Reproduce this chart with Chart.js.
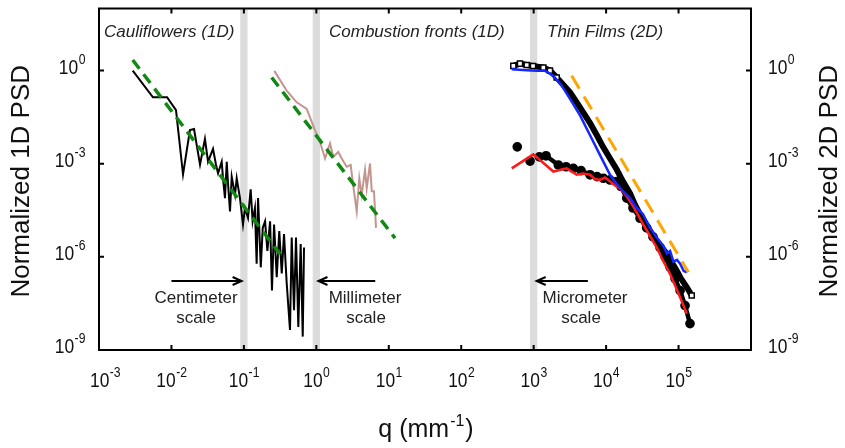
<!DOCTYPE html>
<html>
<head>
<meta charset="utf-8">
<script src="https://cdn.jsdelivr.net/npm/chart.js@4.4.1/dist/chart.umd.min.js"></script>
<style>
  html, body { margin: 0; padding: 0; background: #fff; }
  canvas { display: block; }
</style>
</head>
<body>
<canvas id="psdChart" width="845" height="448"></canvas>
<script>
// Cauliflowers (1D)
const cauliQ = [0.00292, 0.00556, 0.0087, 0.01156, 0.01445, 0.018, 0.0205, 0.0248, 0.029, 0.032, 0.0375, 0.0412, 0.044, 0.0494, 0.0515, 0.0548, 0.058, 0.0604, 0.0643, 0.0679, 0.0754, 0.0796, 0.0883, 0.0972, 0.1035, 0.114, 0.124, 0.132, 0.142, 0.150, 0.157, 0.171, 0.182, 0.196, 0.211, 0.230, 0.244, 0.261, 0.284, 0.308, 0.333, 0.358, 0.390, 0.433, 0.457, 0.492, 0.524, 0.564, 0.608, 0.649, 0.676];
const cauliPsd = [1.0, 0.138, 0.138, 0.053, 4.5e-4, 0.0122, 0.0131, 9.3e-4, 6.3e-3, 1.16e-3, 3.0e-3, 9.3e-4, 4.9e-4, 1.16e-3, 3.4e-4, 7.8e-5, 1.16e-3, 2.3e-4, 2.9e-5, 3.8e-4, 1.0e-4, 3.4e-4, 7.8e-5, 1.1e-5, 3.7e-5, 1.8e-5, 1.5e-4, 1.4e-5, 3.7e-5, 6.0e-7, 7.8e-5, 4.6e-7, 8.6e-6, 1.4e-5, 1.55e-6, 1.4e-5, 8.2e-8, 1.1e-5, 2.2e-7, 6.8e-6, 2.9e-7, 5.4e-6, 1.4e-7, 4.4e-9, 4.2e-6, 1.9e-8, 4.2e-6, 5.5e-9, 2.6e-6, 2.7e-9, 2.0e-6];
const cauliFitQ = [0.00292, 0.316];
const cauliFitPsd = [2.2, 1.23e-6];

// Combustion fronts (1D)
const combQ = [0.263, 0.390, 0.536, 0.736, 0.96, 1.125, 1.32, 1.545, 1.715, 2.01, 2.24, 2.62, 2.98, 3.24, 3.61, 3.92, 4.23, 4.70, 4.96, 5.51, 5.82, 6.24, 6.67];
const combPsd = [0.98, 0.225, 0.095, 0.058, 0.0119, 5.0e-3, 1.47e-3, 4.5e-3, 1.67e-3, 2.4e-3, 1.47e-3, 8.0e-4, 9.1e-4, 1.85e-4, 2.9e-5, 3.4e-4, 1.0e-4, 6.3e-4, 1.6e-4, 1.02e-3, 1.3e-4, 1.3e-4, 8.6e-6];
const combFitQ = [0.242, 12.2];
const combFitPsd = [0.6, 4.0e-6];

// Thin films (2D)
const squareQ = [524, 648, 802, 980, 1360, 1680, 2080, 2540, 3175, 3930, 4800, 6000, 7420, 9060, 11330, 14000, 17130, 21400, 25000, 29400, 36300, 44400, 55500, 68700, 81300, 94400, 108000, 130000, 152000];
const squarePsd = [1.42, 1.68, 1.52, 1.40, 1.25, 1.0, 0.6, 0.358, 0.2, 0.095, 0.046, 0.0204, 8.4e-3, 3.5e-3, 1.47e-3, 6.5e-4, 2.67e-4, 1.1e-4, 4.8e-5, 2.35e-5, 1.05e-5, 4.7e-6, 2.4e-6, 1.25e-6, 6.5e-7, 3.6e-7, 2.0e-7, 1.05e-7, 5.7e-8];
const circleQ = [594, 891, 1197, 1482, 2190, 2800, 3530, 4510, 6000, 7500, 9160, 11330, 14000, 16060, 19250, 23500, 29400, 36300, 44400, 55500, 65000, 76400, 89500, 105000, 123000, 144000];
const circlePsd = [3.5e-3, 1.22e-3, 1.67e-3, 1.8e-3, 9.1e-4, 8.0e-4, 7.1e-4, 6.0e-4, 4.4e-4, 3.85e-4, 3.4e-4, 3.0e-4, 2.67e-4, 1.85e-4, 7.8e-5, 3.75e-5, 1.76e-5, 8.6e-6, 4.4e-6, 2.0e-6, 1.0e-6, 4.6e-7, 2.0e-7, 8.2e-8, 2.7e-8, 7.1e-9];
const blueQ = [498, 800, 1100, 1435, 1867, 2440, 3175, 4365, 6000, 8240, 11330, 14000, 17130, 21400, 26000, 32300, 40000, 50000, 56000, 62000, 69000, 76400, 85000, 95000, 105000, 118000, 130000];
const bluePsd = [1.10, 1.02, 0.98, 0.98, 0.68, 0.326, 0.122, 0.0359, 8.3e-3, 1.9e-3, 4.4e-4, 2.2e-4, 1.3e-4, 7.8e-5, 4.0e-5, 2.35e-5, 9e-6, 4.2e-6, 3.0e-6, 2.2e-6, 1.3e-6, 1.55e-6, 7e-7, 8e-7, 6.0e-7, 3.5e-7, 3.2e-7];
const redQ = [498, 989, 1867, 2860, 3930, 4800, 6000, 7030, 8240, 9660, 11330, 13280, 15560, 18000, 21400, 25900, 32650, 40400, 50000, 61100, 76400, 89500, 105000, 130000];
const redPsd = [7.1e-4, 2.0e-3, 5.6e-4, 7.1e-4, 4.4e-4, 4.8e-4, 4.4e-4, 3.2e-4, 3.0e-4, 3.6e-4, 2.67e-4, 2.0e-4, 1.6e-4, 1.1e-4, 6.2e-5, 2.9e-5, 1.1e-5, 4.7e-6, 2.0e-6, 7.5e-7, 2.8e-7, 1.2e-7, 5.0e-8, 1.48e-8];
const filmFitQ = [3350, 136500];
const filmFitPsd = [0.68, 3.2e-7];

// axis ticks (decade exponents)
const xTickExp = [-3, -2, -1, 0, 1, 2, 3, 4, 5];
const yTickExp = [0, -3, -6, -9];
// grey "scale" bands (q centres)
const bandQ = [0.1, 1, 1000];

const FONT = 'Liberation Sans';
const pts = (xs, ys) => xs.map((x, i) => ({ x: x, y: ys[i] }));

function line(data, color, width, order, extra) {
    return Object.assign({
        data: data, showLine: true, borderColor: color, backgroundColor: color,
        borderWidth: width, pointRadius: 0, tension: 0, order: order
    }, extra || {});
}

// draws 10^exp with a real superscript
function drawPow(ctx, exp, x, y, align, size, supSize, raise, minLeft) {
    const sx = 0.87;
    ctx.font = size + 'px "' + FONT + '"';
    const w1 = ctx.measureText('10').width * sx;
    ctx.font = supSize + 'px "' + FONT + '"';
    const w2 = ctx.measureText(String(exp)).width * sx;
    let left = align === 'center' ? x - (w1 + w2) / 2 : align === 'right' ? x - w1 - w2 : x;
    if (minLeft !== undefined) left = Math.max(left, minLeft);
    ctx.save();
    ctx.translate(left, y);
    ctx.scale(sx, 1);
    ctx.font = size + 'px "' + FONT + '"';
    ctx.fillText('10', 0, 0);
    ctx.font = supSize + 'px "' + FONT + '"';
    ctx.fillText(String(exp), w1 / sx + 0.5, -raise);
    ctx.restore();
}

function arrow(ctx, x1, x2, y) {
    const dir = x2 > x1 ? 1 : -1;
    ctx.beginPath();
    ctx.moveTo(x1, y); ctx.lineTo(x2, y);
    ctx.moveTo(x2 - dir * 9, y - 4); ctx.lineTo(x2, y); ctx.lineTo(x2 - dir * 9, y + 4);
    ctx.stroke();
}

const framePlugin = {
    id: 'frame',
    beforeDatasetsDraw(chart) {
        const { ctx, chartArea: a, scales: { x } } = chart;
        ctx.save();
        ctx.fillStyle = '#dcdcdc';
        bandQ.forEach(q => {
            const l = x.getPixelForValue(q * Math.pow(10, -0.05));
            const r = x.getPixelForValue(q * Math.pow(10, 0.05));
            ctx.fillRect(l, a.top, r - l, a.bottom - a.top);
        });
        ctx.restore();
    },
    afterDatasetsDraw(chart) {
        const { ctx, chartArea: a, scales: { x, y } } = chart;
        ctx.save();
        ctx.strokeStyle = '#000';
        ctx.fillStyle = '#111';
        ctx.lineWidth = 2;
        ctx.strokeRect(a.left, a.top, a.right - a.left, a.bottom - a.top);

        // inward ticks
        ctx.beginPath();
        xTickExp.forEach(e => {
            const px = x.getPixelForValue(Math.pow(10, e));
            ctx.moveTo(px, a.bottom); ctx.lineTo(px, a.bottom - 5);
            ctx.moveTo(px, a.top); ctx.lineTo(px, a.top + 5);
        });
        yTickExp.forEach(e => {
            const py = y.getPixelForValue(Math.pow(10, e));
            ctx.moveTo(a.left, py); ctx.lineTo(a.left + 5, py);
            ctx.moveTo(a.right, py); ctx.lineTo(a.right - 5, py);
        });
        ctx.stroke();

        // tick labels
        ctx.textBaseline = 'alphabetic';
        ctx.textAlign = 'left';
        xTickExp.forEach(e => {
            const px = x.getPixelForValue(Math.pow(10, e));
            drawPow(ctx, e, px, a.bottom + 37, 'center', 20, 14, 10, 90);
        });
        yTickExp.forEach(e => {
            const py = y.getPixelForValue(Math.pow(10, e));
            drawPow(ctx, e, a.left - 14, py + 3, 'right', 20, 14, 10);
            drawPow(ctx, e, a.right + 17, py + 3, 'left', 20, 14, 10);
        });

        // axis titles
        ctx.font = '26px "' + FONT + '"';
        ctx.textAlign = 'center';
        ctx.textBaseline = 'middle';
        const midY = (a.top + a.bottom) / 2 + 2;
        [22, 830].forEach((cx, i) => {
            ctx.save();
            ctx.translate(cx, midY);
            ctx.rotate(-Math.PI / 2);
            ctx.fillText(i === 0 ? 'Normalized 1D PSD' : 'Normalized 2D PSD', 0, 0);
            ctx.restore();
        });
        ctx.textBaseline = 'alphabetic';
        ctx.textAlign = 'left';
        const cx = (a.left + a.right) / 2;
        ctx.font = '25px "' + FONT + '"';
        const wa = ctx.measureText('q (mm').width;
        const wc = ctx.measureText(')').width;
        ctx.font = '16px "' + FONT + '"';
        const wb = ctx.measureText('-1').width;
        let lx = cx - (wa + wb + wc) / 2;
        ctx.font = '25px "' + FONT + '"';
        ctx.fillText('q (mm', lx, 437);
        ctx.font = '16px "' + FONT + '"';
        ctx.fillText('-1', lx + wa + 1, 426);
        ctx.font = '25px "' + FONT + '"';
        ctx.fillText(')', lx + wa + wb + 2, 437);

        // region labels
        ctx.font = 'italic 17px "' + FONT + '"';
        ctx.fillStyle = '#222';
        ctx.fillText('Cauliflowers (1D)', 104, 37);
        ctx.fillText('Combustion fronts (1D)', 329, 37);
        ctx.fillText('Thin Films (2D)', 547, 37);

        // scale arrows
        const arrowY = 281;
        arrow(ctx, x.getPixelForValue(0.01), x.getPixelForValue(0.093), arrowY);
        arrow(ctx, x.getPixelForValue(6.5), x.getPixelForValue(1.07), arrowY);
        arrow(ctx, x.getPixelForValue(5600), x.getPixelForValue(1100), arrowY);
        ctx.font = '17px "' + FONT + '"';
        ctx.textAlign = 'center';
        [['Centimeter', 196], ['Millimeter', 365], ['Micrometer', 585]].forEach(t => {
            ctx.fillText(t[0], t[1], 303);
        });
        [196, 366, 581].forEach(px => ctx.fillText('scale', px, 323));
        ctx.restore();
    }
};

// open squares only where they stand apart (flat top and last point)
const squareRadius = c => (c.dataIndex < 7 || c.dataIndex === squareQ.length - 1) ? 3.6 : 0;

const ctx = document.getElementById('psdChart').getContext('2d');
const psdChart = new Chart(ctx, {
    type: 'scatter',
    data: {
        datasets: [
            line(pts(filmFitQ, filmFitPsd), '#ffa500', 3, 0, { borderDash: [15, 9] }),
            line(pts(blueQ, bluePsd), '#1428ff', 2.5, 1),
            line(pts(redQ, redPsd), '#ff1a1a', 2.5, 2),
            line(pts(circleQ, circlePsd), '#000', 4.5, 3, {
                pointRadius: 2.6, pointStyle: 'circle',
                segment: { borderColor: c => c.p0DataIndex < 3 ? 'rgba(0,0,0,0)' : '#000' }
            }),
            line(pts(squareQ, squarePsd), '#000', 6, 4, {
                pointRadius: squareRadius, pointStyle: 'rect', pointBackgroundColor: '#fff',
                pointBorderColor: '#000', pointBorderWidth: 1.5
            }),
            line(pts(cauliFitQ, cauliFitPsd), '#118811', 3.5, 5, { borderDash: [11, 7] }),
            line(pts(combFitQ, combFitPsd), '#118811', 3.5, 6, { borderDash: [11, 7] }),
            line(pts(cauliQ, cauliPsd), '#000', 2, 7),
            line(pts(combQ, combPsd), '#c4958f', 2, 8)
        ]
    },
    options: {
        responsive: false,
        animation: false,
        layout: { padding: { left: 99, right: 94, top: 5, bottom: 98 } },
        plugins: { legend: { display: false }, tooltip: { enabled: false } },
        scales: {
            x: { type: 'logarithmic', min: 1e-3, max: 1e6, display: false },
            y: { type: 'logarithmic', min: 1e-9, max: 1e2, display: false }
        }
    },
    plugins: [framePlugin]
});
</script>
</body>
</html>
